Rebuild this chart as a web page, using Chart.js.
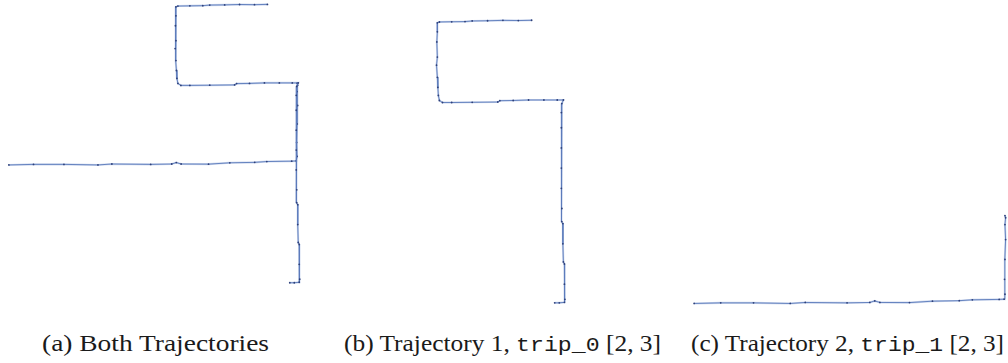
<!DOCTYPE html>
<html>
<head>
<meta charset="utf-8">
<script src="https://cdn.jsdelivr.net/npm/chart.js@4/dist/chart.umd.min.js"></script>
<style>
  html, body { margin: 0; padding: 0; background: #ffffff; }
  body { width: 1008px; height: 363px; position: relative; overflow: hidden; }
  canvas { position: absolute; }
  .cap {
    position: absolute; white-space: nowrap; color: #1a1a1a;
    font-family: "Liberation Serif", serif; font-size: 23px; line-height: 23px;
    transform-origin: left top;
  }
  .cap code { font-family: "Liberation Mono", monospace; font-size: 21px; }
</style>
</head>
<body>
<canvas id="chartA"></canvas>
<canvas id="chartB"></canvas>
<canvas id="chartC"></canvas>
<div class="cap" id="capA">(a) Both Trajectories</div>
<div class="cap" id="capB">(b) Trajectory 1, <code>trip_0</code> [2, 3]</div>
<div class="cap" id="capC">(c) Trajectory 2, <code>trip_1</code> [2, 3]</div>
<script>
// Local planar coordinates (m) of the two recorded trips.
const trip0X = [130, 123.5, 116, 108.5, 101, 97.5, 91, 85, 84, 84, 83.75, 84, 83.6, 84, 84.25, 84.5, 85, 86.5,
  91, 101, 113.5, 114.5, 121, 128.5, 136, 142.5, 145.5, 144.75, 144.5, 144.5, 144.5, 144.5, 144.5, 144.75,
  144.75, 145.25, 145.25, 145.5, 146, 146, 146.25, 146, 143.5, 141.25];
const trip0Y = [148.25, 148.1, 148.2, 148, 147.9, 147.6, 147.5, 147.4, 147, 142.5, 137.5, 130, 126, 120, 115,
  111, 108.5, 107.5, 107.5, 107.6, 107.75, 108.4, 108.5, 108.75, 108.75, 108.75, 108.75, 107, 102.5, 95, 85,
  75, 65, 55, 48.5, 47.5, 37.5, 28.5, 27.5, 17.5, 10, 8.5, 8.25, 8.25];

const trip1X = [0, 12.4, 27.7, 44.8, 51.8, 71.3, 81.9, 84.2, 86.6, 100.4, 111.1, 123.6, 129.7, 142.2, 144.5,
  144.9, 144.7, 144.9, 145.2, 144.9, 145.2, 144.9];
const trip1Y = [67.5, 67.78, 67.78, 67.5, 67.97, 67.78, 67.97, 68.7, 67.97, 67.9, 68.57, 68.8, 69.2, 69.4, 69.5,
  71.8, 78.8, 88.1, 97.4, 104.4, 107.6, 108.6];

const toPoints = (xs, ys) => xs.map((x, i) => ({ x: x, y: ys[i] }));

const HALO = 'rgba(175,192,226,0.6)';
const LINE = 'rgba(92,124,188,0.92)';
const DOT = '#2e4079';

// A trip is drawn as a soft wide stroke under a thin stroke with the fix markers.
function trajectory(xs, ys) {
  const pts = toPoints(xs, ys);
  return [
    {
      data: pts, showLine: true, borderColor: HALO, borderWidth: 2.1,
      pointRadius: 0, pointHoverRadius: 0, tension: 0, clip: false, order: 2
    },
    {
      data: pts, showLine: true, borderColor: LINE, borderWidth: 1,
      pointRadius: 0.9, pointBackgroundColor: DOT, pointBorderWidth: 0,
      pointHoverRadius: 0, tension: 0, clip: false, order: 1
    }
  ];
}

// Panel frame: canvas box plus the pixel scale and one anchor (world point -> pixel).
function panel(id, box, sx, sy, anchorW, anchorP, datasets) {
  const cv = document.getElementById(id);
  cv.width = box.w; cv.height = box.h;
  cv.style.left = box.l + 'px'; cv.style.top = box.t + 'px';
  const xmin = anchorW[0] + (box.l - anchorP[0]) / sx;
  const xmax = anchorW[0] + (box.l + box.w - anchorP[0]) / sx;
  const ymax = anchorW[1] + (anchorP[1] - box.t) / sy;
  const ymin = anchorW[1] - (box.t + box.h - anchorP[1]) / sy;
  new Chart(cv, {
    type: 'scatter',
    data: { datasets: datasets },
    options: {
      responsive: false,
      animation: false,
      events: [],
      layout: { padding: 0 },
      plugins: { legend: { display: false }, tooltip: { enabled: false }, title: { display: false } },
      scales: {
        x: { type: 'linear', display: false, min: xmin, max: xmax },
        y: { type: 'linear', display: false, min: ymin, max: ymax }
      }
    }
  });
}

panel('chartA', { l: 0, t: 0, w: 325, h: 310 }, 2, 2, [0, 0], [8, 300],
  [...trajectory(trip0X, trip0Y), ...trajectory(trip1X, trip1Y)]);
panel('chartB', { l: 330, t: 0, w: 350, h: 315 }, 2.06, 2.03, [84, 147.5], [437, 21],
  trajectory(trip0X, trip0Y));
panel('chartC', { l: 680, t: 0, w: 328, h: 315 }, 2.157, 2.15, [0, 67.5], [693.3, 304.3],
  trajectory(trip1X, trip1Y));

// Sub-figure captions, stretched to the caption widths and centred under each panel.
const capLayout = { capA: [155, 227], capB: [502.5, 317], capC: [847, 313] };
Object.keys(capLayout).forEach(id => {
  const el = document.getElementById(id);
  const [cx, w] = capLayout[id];
  const natural = el.getBoundingClientRect().width;
  el.style.left = (cx - w / 2) + 'px';
  el.style.top = '332px';
  el.style.transform = 'scaleX(' + (w / natural) + ')';
});
</script>
</body>
</html>
